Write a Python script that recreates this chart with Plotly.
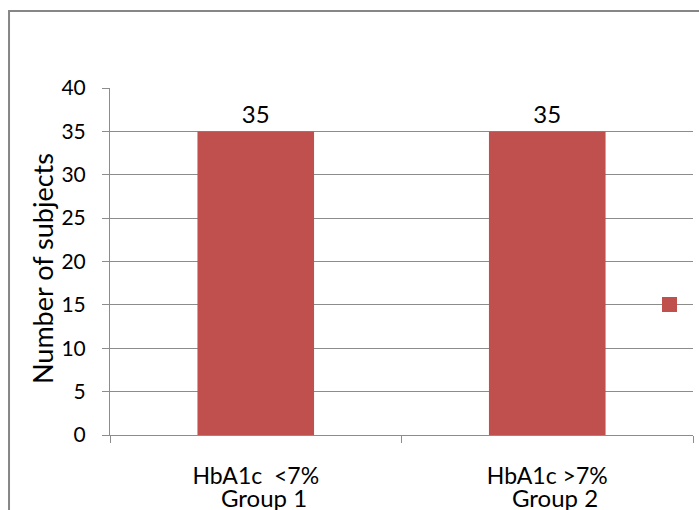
import plotly.graph_objects as go

categories = ["HbA1c  <7%", "HbA1c >7%"]
groups = ["Group 1", "Group 2"]
subjects = [35, 35]
y_ticks = [0, 5, 10, 15, 20, 25, 30, 35, 40]

BAR = "#C0504D"
GRID = "#8C8C8C"
FONT = "Lato"

fig = go.Figure()
fig.add_trace(go.Bar(
    x=categories, y=subjects, marker=dict(color=BAR, line=dict(width=0)),
    text=subjects, texttemplate="%{text}", textposition="outside",
    textfont=dict(family=FONT, size=24, color="#000"),
    cliponaxis=False, showlegend=False, width=0.4,
))

for c, g in zip(categories, groups):
    fig.add_annotation(x=c, y=0, xref="x", yref="y", text=g, showarrow=False,
                       yanchor="top", yshift=-46, xshift=8,
                       font=dict(family=FONT, size=24, color="#000"))

fig.add_annotation(x=-0.1149, y=0.4784, xref="paper", yref="paper",
                   xanchor="center", yanchor="middle",
                   text="Number of subjects", textangle=-90, showarrow=False,
                   font=dict(family=FONT, size=27, color="#000"))

# outer chart frame
fig.add_shape(type="rect", xref="paper", yref="paper",
              x0=-0.1732, x1=1.05, y0=-0.4, y1=1.2219,
              line=dict(color="#868686", width=2), fillcolor="rgba(0,0,0,0)")
# legend key
fig.add_shape(type="rect", xref="paper", yref="paper",
              x0=0.9468, x1=0.9726, y0=0.3545, y1=0.3977,
              line=dict(width=0), fillcolor=BAR)

fig.update_layout(
    width=699, height=510,
    margin=dict(l=110, r=6, t=88, b=75),
    paper_bgcolor="white", plot_bgcolor="white",
    font=dict(family=FONT, color="#000"),
    showlegend=False,
)
fig.update_xaxes(
    type="category", range=[-0.5, 1.5], showline=True, linecolor=GRID, linewidth=1,
    ticks="outside", tickson="boundaries", ticklen=7, tickcolor=GRID,
    ticklabelstandoff=20,
    tickfont=dict(family=FONT, size=23, color="#000"), showgrid=False,
)
fig.update_yaxes(
    range=[0, 40], tickvals=y_ticks, showline=True, linecolor=GRID, linewidth=1,
    ticks="outside", ticklen=7, tickcolor=GRID, showgrid=True, gridcolor=GRID,
    gridwidth=1, zeroline=False, ticklabelstandoff=12,
    tickfont=dict(family=FONT, size=21, color="#000"),
)

fig.write_html("out.html")
